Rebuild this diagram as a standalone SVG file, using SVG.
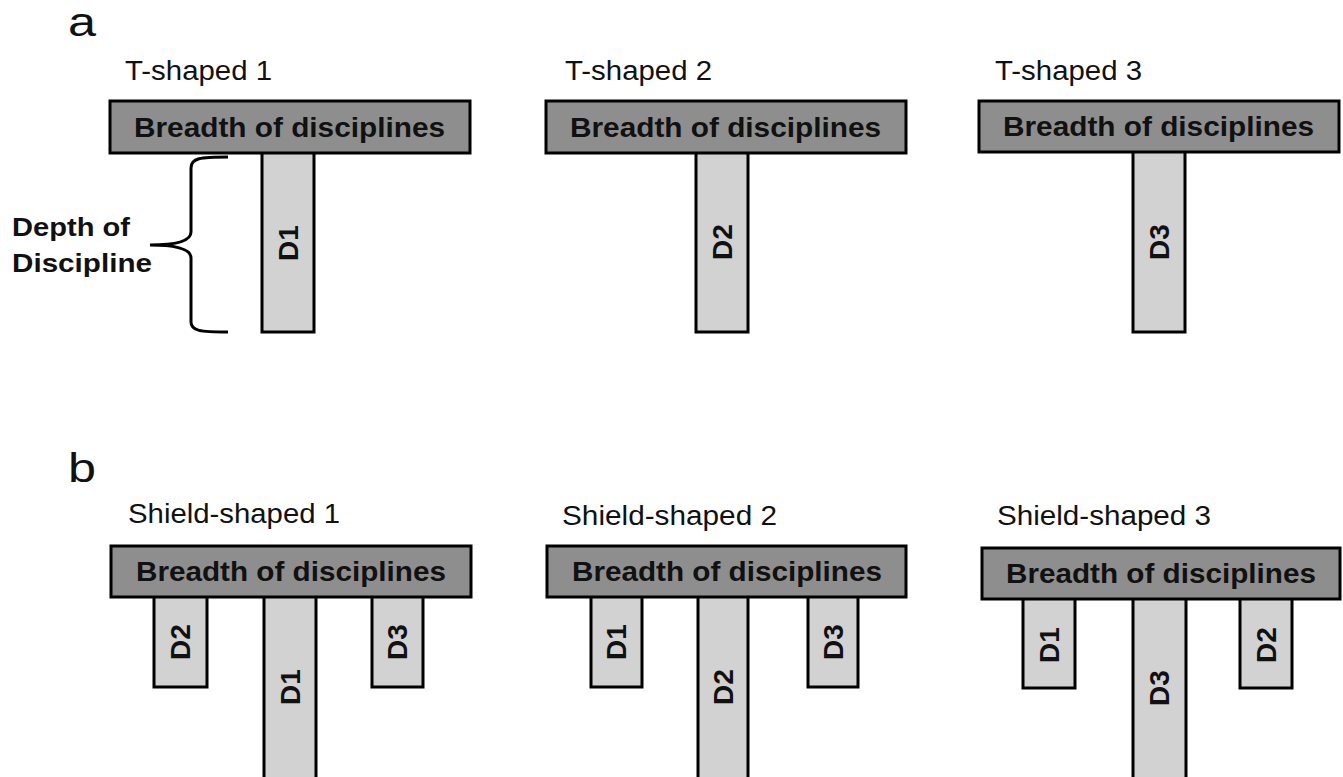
<svg xmlns="http://www.w3.org/2000/svg" width="1343" height="777" viewBox="0 0 1343 777">
<style>
.bar{fill:#8e8e8e;stroke:#000;stroke-width:3}
.d{fill:#d2d2d2;stroke:#000;stroke-width:3}
.bt{font-family:"Liberation Sans",Arial,sans-serif;font-weight:bold;font-size:28px;fill:#111}
.dt{font-family:"Liberation Sans",Arial,sans-serif;font-weight:bold;font-size:28px;fill:#111;text-anchor:middle}
.lbl{font-family:"Liberation Sans",Arial,sans-serif;font-size:27px;fill:#111}
.pl{font-family:"Liberation Sans",Arial,sans-serif;font-size:40px;fill:#111}
.side{font-family:"Liberation Sans",Arial,sans-serif;font-weight:bold;font-size:26px;fill:#111}
</style>
<rect width="1343" height="777" fill="#fff"/>
<text class="pl" x="68" y="36" textLength="28" lengthAdjust="spacingAndGlyphs">a</text>
<text class="pl" x="68" y="482" textLength="28" lengthAdjust="spacingAndGlyphs">b</text>

<g id="t1">
<text class="lbl" x="125" y="80" textLength="147" lengthAdjust="spacingAndGlyphs">T-shaped 1</text>
<rect class="d" x="262" y="152" width="52" height="180"/>
<rect class="bar" x="110" y="101" width="360" height="52"/>
<text class="bt" x="134" y="137" textLength="311" lengthAdjust="spacingAndGlyphs">Breadth of disciplines</text>
<text class="dt" transform="translate(298,243) rotate(-90)">D1</text>
</g>
<g id="t2">
<text class="lbl" x="565" y="80" textLength="147" lengthAdjust="spacingAndGlyphs">T-shaped 2</text>
<rect class="d" x="696" y="152" width="52" height="180"/>
<rect class="bar" x="546" y="101" width="360" height="52"/>
<text class="bt" x="570" y="137" textLength="311" lengthAdjust="spacingAndGlyphs">Breadth of disciplines</text>
<text class="dt" transform="translate(732,242) rotate(-90)">D2</text>
</g>
<g id="t3">
<text class="lbl" x="995" y="80" textLength="147" lengthAdjust="spacingAndGlyphs">T-shaped 3</text>
<rect class="d" x="1133" y="151" width="52" height="181"/>
<rect class="bar" x="979" y="101" width="360" height="51"/>
<text class="bt" x="1003" y="136" textLength="311" lengthAdjust="spacingAndGlyphs">Breadth of disciplines</text>
<text class="dt" transform="translate(1169,242) rotate(-90)">D3</text>
</g>

<g id="depth">
<text class="side" x="12" y="236" textLength="118" lengthAdjust="spacingAndGlyphs">Depth of</text>
<text class="side" x="12" y="272" textLength="140" lengthAdjust="spacingAndGlyphs">Discipline</text>
</g>

<g id="connectors">
<path d="M228,157 C200,157 191,158 191,168 L191,232 C191,240 180,245 150,245 C180,245 191,250 191,258 L191,322 C191,331 200,332 228,332" fill="none" stroke="#000" stroke-width="3"/>
</g>

<g id="s1">
<text class="lbl" x="128" y="523" textLength="212" lengthAdjust="spacingAndGlyphs">Shield-shaped 1</text>
<rect class="d" x="154" y="596" width="53" height="91"/>
<rect class="d" x="264" y="596" width="52" height="190"/>
<rect class="d" x="372" y="596" width="51" height="91"/>
<rect class="bar" x="111" y="546" width="360" height="51"/>
<text class="bt" x="136" y="581" textLength="310" lengthAdjust="spacingAndGlyphs">Breadth of disciplines</text>
<text class="dt" transform="translate(190,642) rotate(-90)">D2</text>
<text class="dt" transform="translate(300,687) rotate(-90)">D1</text>
<text class="dt" transform="translate(407,642) rotate(-90)">D3</text>
</g>
<g id="s2">
<text class="lbl" x="562" y="525" textLength="215" lengthAdjust="spacingAndGlyphs">Shield-shaped 2</text>
<rect class="d" x="591" y="596" width="51" height="91"/>
<rect class="d" x="698" y="596" width="50" height="190"/>
<rect class="d" x="808" y="596" width="50" height="91"/>
<rect class="bar" x="547" y="546" width="359" height="51"/>
<text class="bt" x="572" y="581" textLength="310" lengthAdjust="spacingAndGlyphs">Breadth of disciplines</text>
<text class="dt" transform="translate(626,642) rotate(-90)">D1</text>
<text class="dt" transform="translate(733,687) rotate(-90)">D2</text>
<text class="dt" transform="translate(843,642) rotate(-90)">D3</text>
</g>
<g id="s3">
<text class="lbl" x="997" y="525" textLength="214" lengthAdjust="spacingAndGlyphs">Shield-shaped 3</text>
<rect class="d" x="1023" y="598" width="52" height="90"/>
<rect class="d" x="1133" y="598" width="53" height="190"/>
<rect class="d" x="1240" y="598" width="52" height="90"/>
<rect class="bar" x="982" y="548" width="358" height="51"/>
<text class="bt" x="1006" y="583" textLength="310" lengthAdjust="spacingAndGlyphs">Breadth of disciplines</text>
<text class="dt" transform="translate(1059,645) rotate(-90)">D1</text>
<text class="dt" transform="translate(1169,688) rotate(-90)">D3</text>
<text class="dt" transform="translate(1276,645) rotate(-90)">D2</text>
</g>
</svg>
